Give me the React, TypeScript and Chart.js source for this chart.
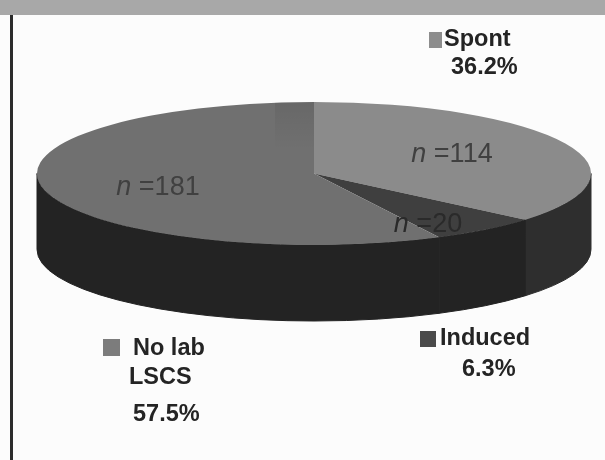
import React, { useEffect, useRef } from "react";
import { Chart, registerables } from "chart.js";

Chart.register(...registerables);

const categories = ["Spont", "Induced", "No lab LSCS"];
const counts = [114, 20, 181];
const countLabels = ["114", "20", "181"];
const topColors = ["#8b8b8b", "#3f3f3f", "#707070"];
const sideColors = ["#2e2e2e", "#232323", "#232323"];
const legendLines = [["Spont", "36.2%"], ["Induced", "6.3%"], ["No lab", "LSCS", "57.5%"]];

const CX = 314;
const CY = 173.5;
const R = 100;
const RX = 277;
const RY = 71.5;
const DEPTH = 76;
const FONT = '"Liberation Sans", Arial, sans-serif';

const countPos = [[452, 162], [428, 232], [158, 195]];
const squarePos = [[429, 32, 13, 16], [420, 331, 16, 16], [103, 339, 17, 17]];
const textPos = [[[444, 46], [451, 74]], [[440, 345], [462, 376]], [[133, 355], [129, 384], [133, 421]]];

const pie3d = {
  id: "pie3d",
  beforeDraw(chart: any) {
    const { ctx, width, height } = chart;
    ctx.save();
    ctx.fillStyle = "#fcfcfc";
    ctx.fillRect(0, 0, width, height);
    ctx.fillStyle = "#a8a8a8";
    ctx.fillRect(0, 0, width, 15);
    ctx.fillStyle = "#2c2c2c";
    ctx.fillRect(10, 15, 3, height - 15);
    ctx.restore();
  },
  beforeDatasetsDraw(chart: any) {
    const { ctx } = chart;
    const arcs = chart.getDatasetMeta(0).data;
    arcs.forEach((arc: any, i: number) => {
      const a0 = Math.max(arc.startAngle, 0);
      const a1 = Math.min(arc.endAngle, Math.PI);
      if (a1 <= a0) return;
      ctx.save();
      ctx.fillStyle = sideColors[i];
      ctx.strokeStyle = sideColors[i];
      ctx.lineWidth = 1;
      ctx.beginPath();
      ctx.ellipse(CX, CY, RX, RY, 0, a0, a1);
      ctx.ellipse(CX, CY + DEPTH, RX, RY, 0, a1, a0, true);
      ctx.closePath();
      ctx.fill();
      ctx.stroke();
      ctx.restore();
    });
    ctx.save();
    ctx.translate(CX, CY);
    ctx.scale(RX / R, RY / R);
    ctx.translate(-CX, -CY);
  },
  afterDatasetsDraw(chart: any) {
    const { ctx } = chart;
    ctx.restore();
    ctx.save();
    ctx.beginPath();
    ctx.ellipse(CX, CY, RX, RY, 0, 0, Math.PI * 2);
    ctx.clip();
    const g = ctx.createLinearGradient(0, 100, 0, 150);
    g.addColorStop(0, "rgba(0,0,0,0.08)");
    g.addColorStop(1, "rgba(0,0,0,0)");
    ctx.fillStyle = g;
    ctx.fillRect(275, 100, 39, 50);
    ctx.restore();

    ctx.save();
    ctx.textBaseline = "alphabetic";
    countLabels.forEach((label, i) => {
      const [x, y] = countPos[i];
      ctx.fillStyle = i === 1 ? "#2a2a2a" : "#404040";
      ctx.font = `italic 27px ${FONT}`;
      const w1 = ctx.measureText("n ").width;
      ctx.font = `27px ${FONT}`;
      const text = "=" + label;
      const w2 = ctx.measureText(text).width;
      const left = x - (w1 + w2) / 2;
      ctx.font = `italic 27px ${FONT}`;
      ctx.fillText("n ", left, y);
      ctx.font = `27px ${FONT}`;
      ctx.fillText(text, left + w1, y);
    });
    categories.forEach((_, i) => {
      const [sx, sy, sw, sh] = squarePos[i];
      ctx.fillStyle = ["#8d8d8d", "#4a4a4a", "#7c7c7c"][i];
      ctx.fillRect(sx, sy, sw, sh);
      ctx.fillStyle = "#242424";
      ctx.font = `bold 23.5px ${FONT}`;
      legendLines[i].forEach((line, j) => {
        const [x, y] = textPos[i][j];
        ctx.fillText(line, x, y);
      });
    });
    ctx.restore();
  },
};

export default function App() {
  const ref = useRef<HTMLCanvasElement>(null);
  useEffect(() => {
    const chart = new Chart(ref.current as HTMLCanvasElement, {
      type: "pie",
      data: {
        labels: categories,
        datasets: [{ data: counts, backgroundColor: topColors, borderWidth: 0 }],
      },
      options: {
        responsive: false,
        animation: false,
        layout: {
          padding: { left: CX - R, right: 605 - CX - R, top: CY - R, bottom: 460 - CY - R },
        },
        plugins: { legend: { display: false }, tooltip: { enabled: false } },
      },
      plugins: [pie3d],
    } as any);
    return () => chart.destroy();
  }, []);
  return (
    <canvas
      ref={ref}
      width={605}
      height={460}
      style={{ position: "absolute", left: 0, top: 0, width: 605, height: 460, filter: "blur(0.6px)" }}
    />
  );
}
